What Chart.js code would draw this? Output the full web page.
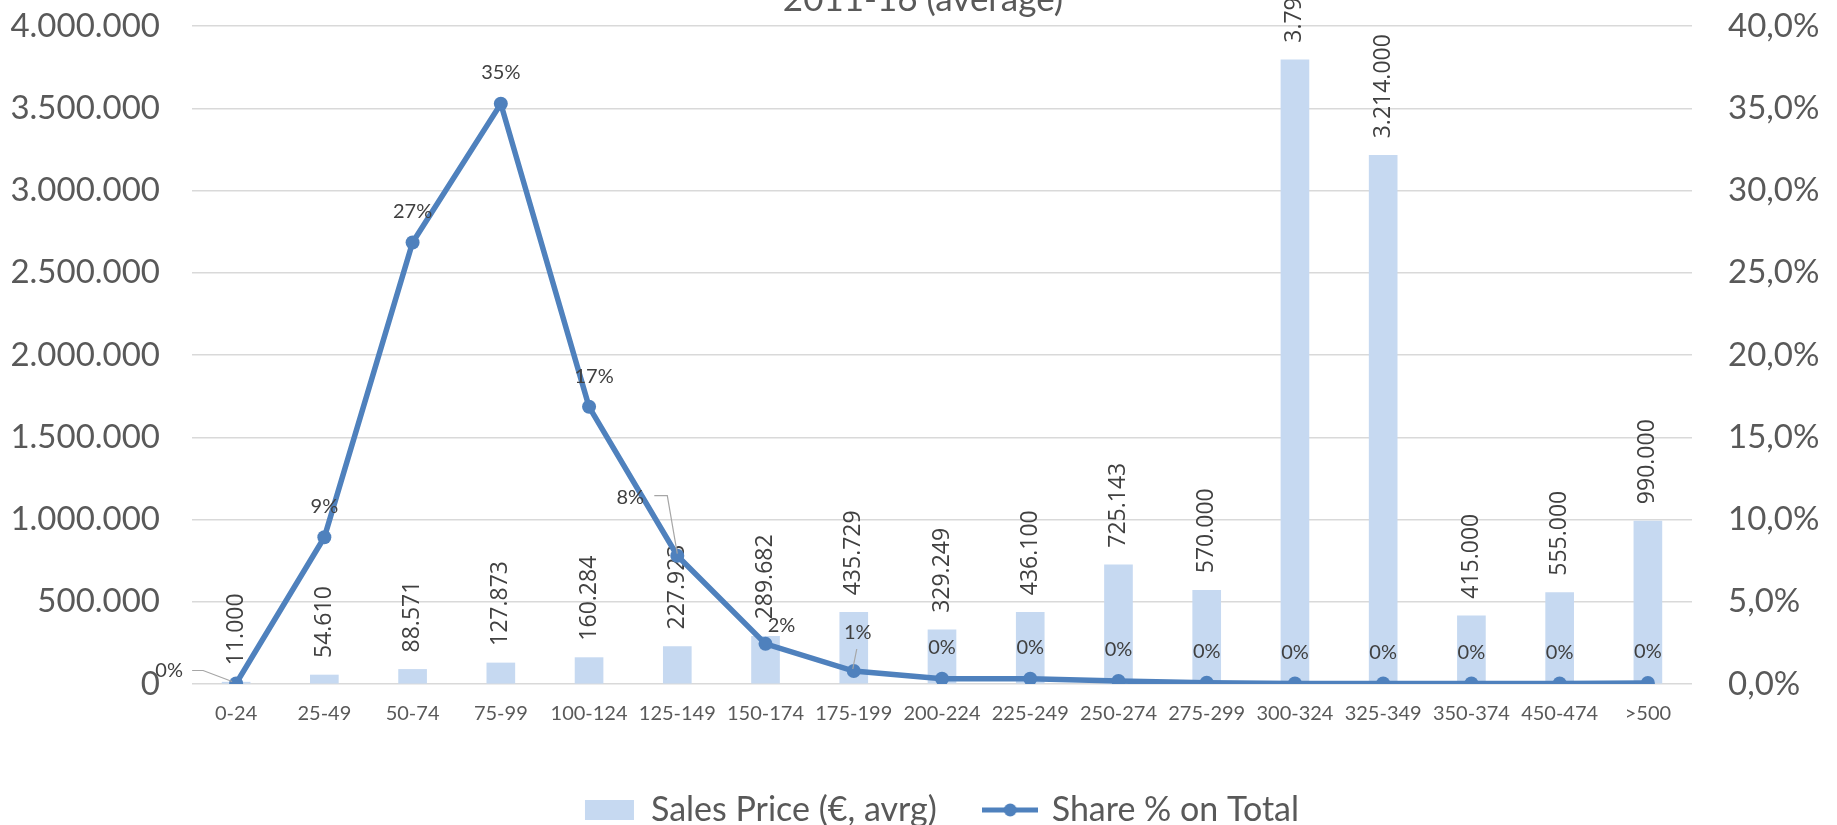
<!DOCTYPE html>
<html>
<head>
<meta charset="utf-8">
<title>Sales Price and Share % on Total</title>
<script src="https://cdn.jsdelivr.net/npm/chart.js@4/dist/chart.umd.min.js"></script>
<style>
  html, body { margin: 0; padding: 0; background: #ffffff; }
  #wrap { width: 1837px; height: 825px; position: relative; }
  canvas { display: block; }
</style>
</head>
<body>
<div id="wrap"><canvas id="chart" width="1837" height="825"></canvas></div>
<script>
// Price bands (thousand €)
const categories = ['0-24', '25-49', '50-74', '75-99', '100-124', '125-149', '150-174', '175-199',
  '200-224', '225-249', '250-274', '275-299', '300-324', '325-349', '350-374', '450-474', '>500'];

// Average sales price per band (€)
const salesPrice = [11000, 54610, 88571, 127873, 160284, 227923, 289682, 435729,
  329249, 436100, 725143, 570000, 3795000, 3214000, 415000, 555000, 990000];

// Share of transactions per band (% on total)
const sharePct = [0.03, 8.92, 26.84, 35.27, 16.85, 7.8, 2.44, 0.79,
  0.32, 0.32, 0.18, 0.08, 0.03, 0.03, 0.03, 0.03, 0.06];

const seriesNames = ['Sales Price (€, avrg)', 'Share % on Total'];
const chartTitle = '2011-16 (average)';

// Axis ranges
const priceAxis = { min: 0, max: 4000000, step: 500000 };
const shareAxis = { min: 0, max: 40, step: 5 };

// Colours
const barColor = '#C6D9F1';
const lineColor = '#4F81BD';
const gridColor = '#D9D9D9';
const axisText = '#595959';
const labelText = '#404040';
const leaderColor = '#A6A6A6';

const thousands = v => String(Math.round(v)).replace(/\B(?=(\d{3})+(?!\d))/g, '.');
const pctAxis = v => v.toFixed(1).replace('.', ',') + '%';

// Placement of share labels around their points; default sits above the point
const shareLabelPlacement = {
  0: { dx: -67, dy: -13, leader: [[-44, -13], [-33, -13], [-4, -2]] },
  4: { dx: 5, dy: -30 },
  5: { dx: -47, dy: -58, leader: [[-23, -60], [-10, -60], [0, -2]] },
  6: { dx: 16, dy: -18 },
  7: { dx: 4, dy: -38, leader: [[3, -22], [-1, -2]] }
};

// Legend marker for the line series: stroke with a dot in the middle
function lineMarker() {
  const c = document.createElement('canvas');
  c.width = 56; c.height = 16;
  const g = c.getContext('2d');
  g.strokeStyle = lineColor; g.lineWidth = 5;
  g.beginPath(); g.moveTo(0, 8); g.lineTo(56, 8); g.stroke();
  g.fillStyle = lineColor;
  g.beginPath(); g.arc(28, 8, 6.5, 0, Math.PI * 2); g.fill();
  return c;
}

const titlePlugin = {
  id: 'topTitle',
  afterDraw(chart) {
    const ctx = chart.ctx;
    ctx.save();
    ctx.font = '35px Lato';
    ctx.fillStyle = axisText;
    ctx.textAlign = 'center';
    ctx.textBaseline = 'alphabetic';
    ctx.fillText(chartTitle, 923, 11);
    ctx.restore();
  }
};

const valueLabels = {
  id: 'valueLabels',
  afterDatasetDraw(chart, args) {
    if (args.index !== 0) return;
    const ctx = chart.ctx;
    ctx.save();
    ctx.font = '23px "Open Sans"';
    ctx.fillStyle = labelText;
    ctx.textAlign = 'left';
    ctx.textBaseline = 'middle';
    args.meta.data.forEach((bar, i) => {
      ctx.save();
      ctx.translate(bar.x, bar.y - 17);
      ctx.rotate(-Math.PI / 2);
      ctx.fillText(thousands(salesPrice[i]), 0, 0);
      ctx.restore();
    });
    ctx.restore();
  },
  afterDatasetsDraw(chart) {
    const meta = chart.getDatasetMeta(1);
    const ctx = chart.ctx;
    ctx.save();
    ctx.font = '20px Lato';
    ctx.fillStyle = labelText;
    ctx.textAlign = 'center';
    ctx.textBaseline = 'middle';
    meta.data.forEach((pt, i) => {
      const p = shareLabelPlacement[i] || { dx: 0, dy: -31 };
      if (p.leader) {
        ctx.strokeStyle = leaderColor;
        ctx.lineWidth = 1.2;
        ctx.beginPath();
        p.leader.forEach(([lx, ly], k) => {
          if (k === 0) ctx.moveTo(pt.x + lx, pt.y + ly); else ctx.lineTo(pt.x + lx, pt.y + ly);
        });
        ctx.stroke();
      }
      ctx.fillText(Math.round(sharePct[i]) + '%', pt.x + p.dx, pt.y + p.dy);
    });
    ctx.restore();
  }
};

// Vertical axes keep their labels inside the fixed plot frame
function fixVertical(width) {
  return scale => {
    scale.width = width;
    scale.paddingTop = 0;
    scale.paddingBottom = 0;
  };
}

new Chart(document.getElementById('chart'), {
  data: {
    labels: categories,
    datasets: [
      {
        type: 'bar',
        label: seriesNames[0],
        data: salesPrice,
        yAxisID: 'yPrice',
        backgroundColor: barColor,
        borderWidth: 0,
        barThickness: 28,
        order: 1
      },
      {
        type: 'line',
        label: seriesNames[1],
        data: sharePct,
        yAxisID: 'yShare',
        borderColor: lineColor,
        backgroundColor: lineColor,
        borderWidth: 5.5,
        pointRadius: 7,
        pointBackgroundColor: lineColor,
        pointBorderWidth: 0,
        tension: 0,
        order: 0
      }
    ]
  },
  options: {
    responsive: false,
    animation: false,
    devicePixelRatio: 1,
    layout: { padding: { left: 0, right: 0, top: 26, bottom: -12 } },
    plugins: {
      tooltip: { enabled: false },
      title: { display: false },
      legend: {
        position: 'bottom',
        fullSize: false,
        labels: {
          usePointStyle: true,
          pointStyleWidth: 49,
          boxHeight: 20,
          padding: 49,
          color: axisText,
          font: { family: 'Lato', size: 34 },
          generateLabels(chart) {
            return chart.data.datasets.map((ds, i) => ({
              text: ds.label,
              datasetIndex: i,
              fillStyle: i === 0 ? barColor : lineColor,
              strokeStyle: 'rgba(0,0,0,0)',
              lineWidth: 0,
              fontColor: axisText,
              pointStyle: i === 0 ? 'rect' : lineMarker(),
              hidden: false
            }));
          }
        }
      }
    },
    scales: {
      x: {
        grid: { display: false, drawTicks: false },
        border: { display: false },
        ticks: {
          color: axisText,
          font: { family: 'Lato', size: 20 },
          padding: 18,
          maxRotation: 0,
          autoSkip: false
        },
        afterFit(scale) { scale.height = 60; }
      },
      yPrice: {
        position: 'left',
        min: priceAxis.min,
        max: priceAxis.max,
        grid: { color: gridColor, lineWidth: 1.5, drawTicks: false },
        border: { display: false },
        ticks: {
          stepSize: priceAxis.step,
          color: axisText,
          font: { family: 'Lato', size: 33 },
          padding: 32,
          callback: v => thousands(v)
        },
        afterFit: fixVertical(192)
      },
      yShare: {
        position: 'right',
        min: shareAxis.min,
        max: shareAxis.max,
        grid: { display: false, drawTicks: false },
        border: { display: false },
        ticks: {
          stepSize: shareAxis.step,
          color: axisText,
          font: { family: 'Lato', size: 33 },
          padding: 36,
          callback: v => pctAxis(v)
        },
        afterFit: fixVertical(145)
      }
    }
  },
  plugins: [valueLabels, titlePlugin]
});
</script>
</body>
</html>
